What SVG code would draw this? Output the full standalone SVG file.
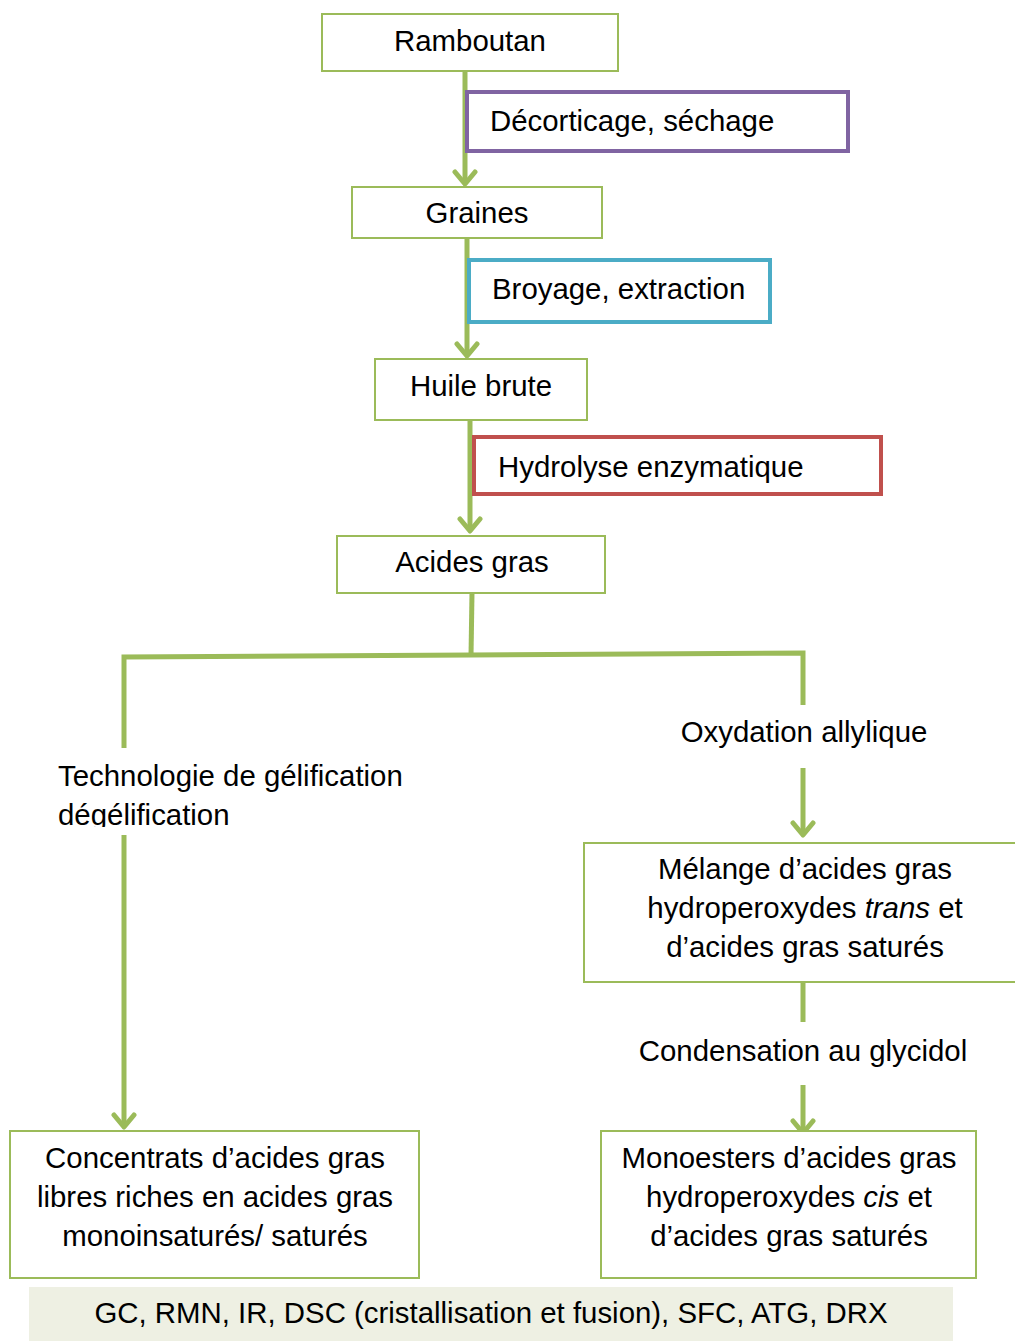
<svg xmlns="http://www.w3.org/2000/svg" width="1015" height="1341" viewBox="0 0 1015 1341">
<style>
text{font-family:"Liberation Sans",Arial,sans-serif;font-size:29.4px;fill:#000}
.box{fill:#fff;stroke:#9BBB59;stroke-width:2}
.c{text-anchor:middle}
.ln{fill:none;stroke:#9BBB59;stroke-width:5}
</style>
<defs>
<marker id="arr" markerUnits="userSpaceOnUse" viewBox="0 0 20 26" refX="16" refY="13" markerWidth="20" markerHeight="26" orient="auto">
<path d="M4,3 L16,13 L4,23" fill="none" stroke="#9BBB59" stroke-width="5" stroke-linecap="round" stroke-linejoin="round"/>
</marker>
<clipPath id="clipTech"><rect x="40" y="748" width="400" height="79"/></clipPath>
</defs>
<g id="connectors">
<line class="ln" x1="465" y1="71" x2="465" y2="184" marker-end="url(#arr)"/>
<line class="ln" x1="467" y1="238" x2="467" y2="356" marker-end="url(#arr)"/>
<line class="ln" x1="470" y1="420" x2="470" y2="531" marker-end="url(#arr)"/>
<polyline class="ln" points="472,593 471,656"/>
<polyline class="ln" points="124,748 124,657 471,655 803,653 803,705"/>
<line class="ln" x1="124" y1="835" x2="124" y2="1127" marker-end="url(#arr)"/>
<line class="ln" x1="803" y1="768" x2="803" y2="835" marker-end="url(#arr)"/>
<line class="ln" x1="803" y1="982" x2="803" y2="1022"/>
<line class="ln" x1="803" y1="1085" x2="803" y2="1133" marker-end="url(#arr)"/>
</g>
<g id="ramboutan"><rect class="box" x="322" y="14" width="296" height="57"/><text class="c" x="470" y="51">Ramboutan</text></g>
<g id="decorticage"><rect x="467" y="92" width="381" height="59" fill="#fff" stroke="#8064A2" stroke-width="4"/><text x="490" y="131">Décorticage, séchage</text></g>
<g id="graines"><rect class="box" x="352" y="187" width="250" height="51"/><text class="c" x="477" y="223">Graines</text></g>
<g id="broyage"><rect x="469" y="260" width="301" height="62" fill="#fff" stroke="#4BACC6" stroke-width="4"/><text x="492" y="299">Broyage, extraction</text></g>
<g id="huile"><rect class="box" x="375" y="359" width="212" height="61"/><text class="c" x="481" y="396">Huile brute</text></g>
<g id="hydrolyse"><rect x="474" y="437" width="407" height="57" fill="#fff" stroke="#C0504D" stroke-width="4"/><text x="498" y="477">Hydrolyse enzymatique</text></g>
<g id="acides"><rect class="box" x="337" y="536" width="268" height="57"/><text class="c" x="472" y="572">Acides gras</text></g>
<g id="oxydation"><text class="c" x="804" y="742">Oxydation allylique</text></g>
<g id="technologie"><g clip-path="url(#clipTech)"><text x="58" y="786">Technologie de gélification</text><text x="58" y="825">dégélification</text></g></g>
<g id="melange"><rect class="box" x="584" y="843" width="440" height="139"/>
<text class="c" x="805" y="879">Mélange d’acides gras</text>
<text class="c" x="805" y="918">hydroperoxydes <tspan font-style="italic">trans</tspan> et</text>
<text class="c" x="805" y="957">d’acides gras saturés</text></g>
<g id="condensation"><text class="c" x="803" y="1061">Condensation au glycidol</text></g>
<g id="concentrats"><rect class="box" x="10" y="1131" width="409" height="147"/>
<text class="c" x="215" y="1168">Concentrats d’acides gras</text>
<text class="c" x="215" y="1207">libres riches en acides gras</text>
<text class="c" x="215" y="1246">monoinsaturés/ saturés</text></g>
<g id="monoesters"><rect class="box" x="601" y="1131" width="375" height="147"/>
<text class="c" x="789" y="1168">Monoesters d’acides gras</text>
<text class="c" x="789" y="1207">hydroperoxydes <tspan font-style="italic">cis</tspan> et</text>
<text class="c" x="789" y="1246">d’acides gras saturés</text></g>
<g id="analyses"><rect x="29" y="1287" width="924" height="54" fill="#EEF0E3"/><text class="c" x="491" y="1323">GC, RMN, IR, DSC (cristallisation et fusion), SFC, ATG, DRX</text></g>
</svg>
